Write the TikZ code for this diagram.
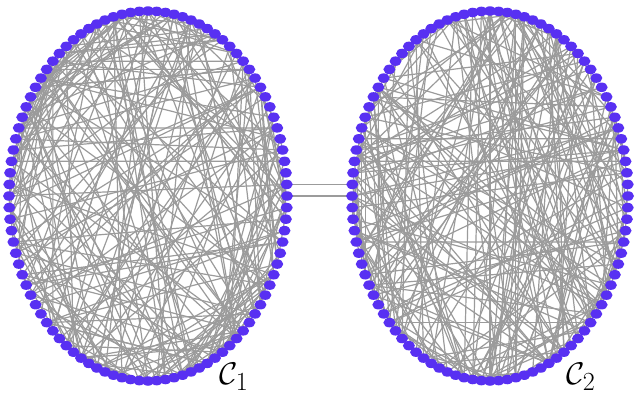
\documentclass[tikz,border=0pt]{standalone}
\usetikzlibrary{shapes.geometric}
\pgfdeclarelayer{bg}
\pgfsetlayers{bg,main}
\definecolor{dotc}{RGB}{88,48,242}
\definecolor{edgec}{RGB}{155,155,155}
\begin{document}
\begin{tikzpicture}[x=1pt,y=-1pt,
  dot/.style={shape=ellipse,fill=dotc,inner sep=0pt,minimum width=12pt,minimum height=9.5pt},
  edge/.style={draw=edgec,line width=1.2pt},
  lab/.style={font=\Huge,inner sep=0pt,scale=1.26}]
\useasboundingbox (0,0) rectangle (640,413);
\foreach \i in {1,...,100}{
  \pgfmathsetmacro\t{3.6*\i}
  \node[dot] (a\i) at ({148+139*cos(\t)},{196+185*sin(\t)}) {};
  \node[dot] (b\i) at ({490+138*cos(\t)},{196+185*sin(\t)}) {};
}
\pgfmathsetseed{4242}
\begin{pgfonlayer}{bg}
\foreach \k in {1,...,240}{
  \pgfmathrandominteger{\p}{1}{100}
  \pgfmathrandominteger{\q}{1}{100}
  \draw[edge] (a\p.center) -- (a\q.center);
  \pgfmathrandominteger{\r}{1}{100}
  \pgfmathrandominteger{\s}{1}{100}
  \draw[edge] (b\r.center) -- (b\s.center);
}
\draw[edge] (a99.center) -- (b51.center);
\draw[edge] (a100.center) -- (b50.center);
\end{pgfonlayer}
\node[lab] (c1) at (234,377) {$\mathcal{C}_1$};
\node[lab] (c2) at (581,377) {$\mathcal{C}_2$};
\end{tikzpicture}
\end{document}
